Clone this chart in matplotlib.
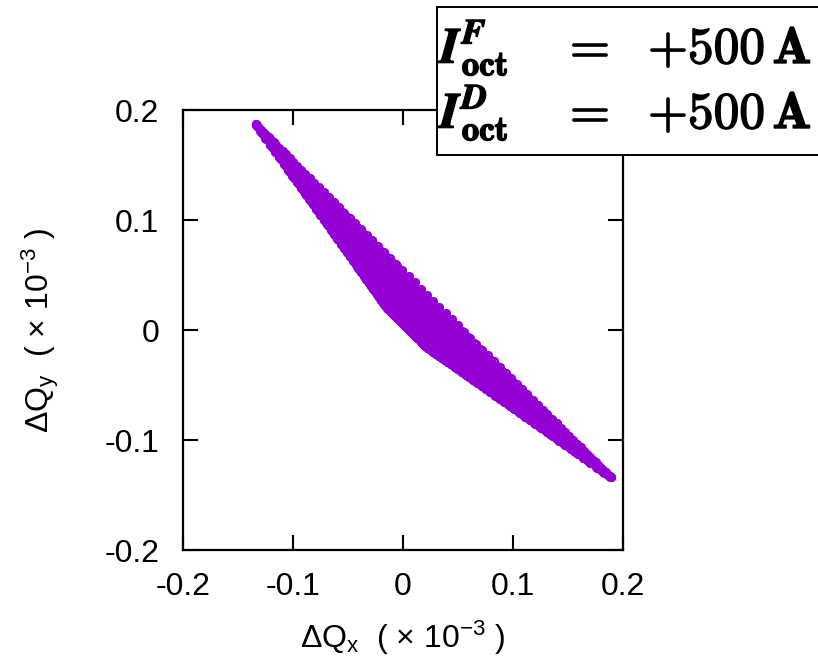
import numpy as np
import matplotlib
matplotlib.use("Agg")
import matplotlib.pyplot as plt
from matplotlib.patches import Rectangle
import matplotlib.patheffects as pe

plt.rcParams["font.family"] = ["Liberation Sans", "DejaVu Sans"]
plt.rcParams["mathtext.fontset"] = "custom"
plt.rcParams["mathtext.rm"] = "Liberation Sans"
plt.rcParams["mathtext.it"] = "Liberation Sans:italic"
plt.rcParams["mathtext.bf"] = "Liberation Sans:bold"

# Linear octupole detuning (units of 1e-3) at the largest scanned amplitude:
# tune shift of a particle oscillating purely in x, and purely in y.
shift_pure_x = [0.189, -0.134]
shift_pure_y = [-0.134, 0.187]

# Amplitude scan in units of beam sigma and launch angles in the x-y plane
amplitudes_sigma = np.arange(2.0, 6.0001, 0.1)
angles_deg = np.arange(0.0, 90.0001, 1.0)
max_sigma = 6.0

octupole_currents = [r"$\mathbf{+500\,A}$", r"$\mathbf{+500\,A}$"]
octupole_labels = [r"$\mathbfit{I}^{\mathbfit{F}}_{\mathbf{oct}}$",
                   r"$\mathbfit{I}^{\mathbfit{D}}_{\mathbf{oct}}$"]

xticks = [-0.2, -0.1, 0.0, 0.1, 0.2]
yticks = [-0.2, -0.1, 0.0, 0.1, 0.2]
xtick_labels = ["-0.2", "-0.1", "0", "0.1", "0.2"]
ytick_labels = ["-0.2", "-0.1", "0", "0.1", "0.2"]

# action fractions Jx, Jy relative to the maximum amplitude
R, TH = np.meshgrid(amplitudes_sigma, np.deg2rad(angles_deg))
jx = (R * np.cos(TH) / max_sigma) ** 2
jy = (R * np.sin(TH) / max_sigma) ** 2
dqx = shift_pure_x[0] * jx + shift_pure_y[0] * jy
dqy = shift_pure_x[1] * jx + shift_pure_y[1] * jy

W, H = 818, 661
fig = plt.figure(figsize=(W / 100, H / 100), dpi=100)
ax = fig.add_axes([183 / W, 1 - 550 / H, 440 / W, 440 / H])

ax.plot(dqx.ravel(), dqy.ravel(), linestyle="none", marker="o",
        markersize=4.8, markerfacecolor="none", markeredgecolor="#9400d3",
        markeredgewidth=1.8)

ax.set_xlim(-0.2, 0.2)
ax.set_ylim(-0.2, 0.2)
ax.set_xticks(xticks)
ax.set_xticklabels(xtick_labels)
ax.set_yticks(yticks)
ax.set_yticklabels(ytick_labels)
ax.tick_params(direction="in", length=11, width=1.5, labelsize=23,
               top=True, right=True)
ax.tick_params(axis="x", pad=16)
ax.tick_params(axis="y", pad=17)
for s in ax.spines.values():
    s.set_linewidth(1.6)

ax.set_xlabel(r"$\Delta$Q$_\mathrm{x}$  ( $\times$ 10$^{-3}$ )", fontsize=23,
              labelpad=12)
ax.set_ylabel(r"$\Delta$Q$_\mathrm{y}$  ( $\times$ 10$^{-3}$ )", fontsize=23,
              labelpad=31)

# key box in the upper right corner
box = Rectangle((437 / W, 1 - 155 / H), (W - 437 + 10) / W, 148 / H,
                transform=fig.transFigure, facecolor="white",
                edgecolor="black", linewidth=1.4, zorder=10, clip_on=False)
fig.patches.append(box)
bold = [pe.withStroke(linewidth=1.1, foreground="black")]
for i, (lab, cur) in enumerate(zip(octupole_labels, octupole_currents)):
    yb = 1 - (63 + 65 * i) / H
    fig.text(440 / W, yb, lab, fontsize=36, math_fontfamily="cm",
             va="baseline", ha="left", zorder=11, path_effects=bold)
    fig.text(585 / W, yb, r"$\mathbf{=}$", fontsize=37, math_fontfamily="cm",
             va="baseline", ha="center", zorder=11, path_effects=bold)
    fig.text(648 / W, yb, cur, fontsize=37,
             math_fontfamily="cm", va="baseline", ha="left", zorder=11,
             path_effects=bold)

fig.savefig("out.png", dpi=100)
